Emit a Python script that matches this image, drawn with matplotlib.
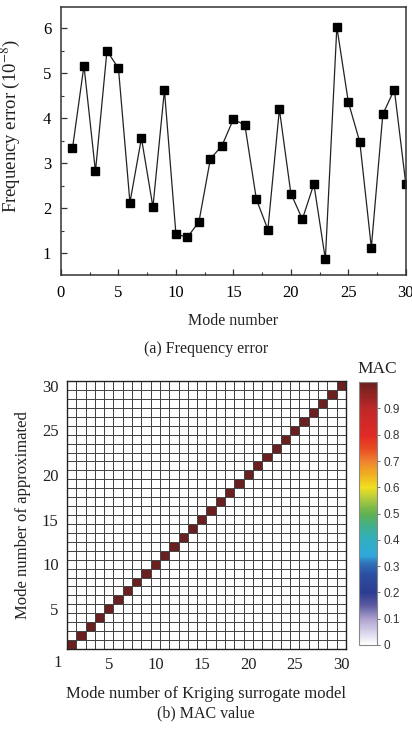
import numpy as np
import matplotlib
matplotlib.use("Agg")
import matplotlib.pyplot as plt
from matplotlib.colors import LinearSegmentedColormap
from matplotlib.ticker import MultipleLocator
import matplotlib.transforms as mtransforms

# ---- data ----
modes = list(range(1, 31))
freq_error = [3.33, 5.17, 2.82, 5.50, 5.11, 2.13, 3.56, 2.03, 4.63, 1.43,
              1.36, 1.70, 3.10, 3.39, 3.98, 3.85, 2.20, 1.53, 4.20, 2.33,
              1.76, 2.54, 0.87, 6.03, 4.36, 3.47, 1.13, 4.09, 4.64, 2.54]
mac_diag = [1.0] * 30
top_xticks = [0, 5, 10, 15, 20, 25, 30]
top_yticks = [1, 2, 3, 4, 5, 6]
mac_ticks = [5, 10, 15, 20, 25, 30]
cbar_ticks = [0, 0.1, 0.2, 0.3, 0.4, 0.5, 0.6, 0.7, 0.8, 0.9]

serif = ["Liberation Serif", "DejaVu Serif"]
sans = ["Liberation Sans", "DejaVu Sans"]
plt.rcParams['font.family'] = serif
plt.rcParams['mathtext.fontset'] = 'stix'

fig = plt.figure(figsize=(4.12, 7.32), dpi=100)

# ---- (a) frequency error ----
ax1 = fig.add_axes([0.148, 0.6243, 0.837, 0.366])
ax1.plot(modes, freq_error, color='#222222', lw=0.9, marker='s', ms=5.6,
         mfc='black', mec='black')
ax1.set_xlim(0, 30)
ax1.set_ylim(0.52, 6.47)
ax1.set_xticks(top_xticks)
ax1.set_yticks(top_yticks)
ax1.xaxis.set_minor_locator(MultipleLocator(2.5))
ax1.yaxis.set_minor_locator(MultipleLocator(0.5))
ax1.tick_params(which='both', direction='in', top=False, right=False,
                labelsize=12, color='#333333')
ax1.tick_params(which='major', length=4, width=0.9, pad=7)
ax1.tick_params(which='minor', length=2.5, width=0.8)
for s in ax1.spines.values():
    s.set_color('#333333'); s.set_linewidth(1.1)
ax1.set_ylabel('Frequency error (10$^{-8}$)', fontsize=13.5, color='#222222')
ax1.yaxis.set_label_coords(-0.113, 0.555)
ax1.set_xlabel('Mode number', fontsize=11.5, color='#222222', labelpad=9)
fig.text(0.5, 1 - 349/732, '(a) Frequency error', ha='center', va='center',
         fontsize=11.5, color='#222222')

# ---- (b) MAC value ----
cmap = LinearSegmentedColormap.from_list('mac', [
    (0.00, '#ffffff'), (0.05, '#d8d2ea'), (0.10, '#a89ccc'), (0.15, '#5a5aa0'),
    (0.20, '#2c3c90'), (0.27, '#2c50a4'), (0.31, '#3070b8'), (0.34, '#30a8dc'),
    (0.40, '#30b0c0'), (0.45, '#40b090'), (0.50, '#60b050'), (0.55, '#a8c840'),
    (0.60, '#f0e020'), (0.65, '#f0b020'), (0.70, '#f08030'), (0.75, '#e84a22'),
    (0.80, '#e02a25'), (0.90, '#c02828'), (1.00, '#6a2020')])

mac = np.diag(mac_diag)
ax2 = fig.add_axes([0.1626, 0.1134, 0.677, 0.366])
edges = np.arange(0.5, 31.5, 1)
mesh = ax2.pcolormesh(edges, edges, mac, cmap=cmap, vmin=0, vmax=1,
                      edgecolors='#444444', linewidth=0.65)
ax2.set_xlim(0.5, 30.5)
ax2.set_ylim(0.5, 30.5)
ax2.set_xticks(mac_ticks)
ax2.set_yticks(mac_ticks)
ax2.tick_params(length=0, labelsize=12, pad=6, colors='#222222')
for s in ax2.spines.values():
    s.set_color('#222222'); s.set_linewidth(1.0)
trans = mtransforms.blended_transform_factory(ax2.transData, ax2.transAxes)
ax2.text(-0.5, -0.022, '1', transform=trans, ha='center', va='top',
         fontsize=12, color='#222222')
ax2.set_xlabel('Mode number of Kriging surrogate model', fontsize=12,
               color='#222222', labelpad=9)
ax2.set_ylabel('Mode number of approximated', fontsize=12, color='#222222',
               labelpad=8)
fig.text(0.5, 1 - 713/732, '(b) MAC value', ha='center', va='center',
         fontsize=11.5, color='#222222')

cax = fig.add_axes([0.871, 0.1189, 0.0437, 0.359])
cb = fig.colorbar(mesh, cax=cax, ticks=cbar_ticks)
cb.outline.set_edgecolor('#888888')
cb.outline.set_linewidth(0.8)
cax.tick_params(length=2, width=0.6, color='#555555', labelsize=8.5, pad=3)
cax.set_yticklabels(['0', '0.1', '0.2', '0.3', '0.4', '0.5', '0.6', '0.7', '0.8', '0.9'],
                    fontfamily=sans, color='#333333')
fig.text(0.916, 1 - 369/732, 'MAC', ha='center', va='center', fontsize=12.5,
         color='#222222')

fig.savefig('out.png', dpi=100)
